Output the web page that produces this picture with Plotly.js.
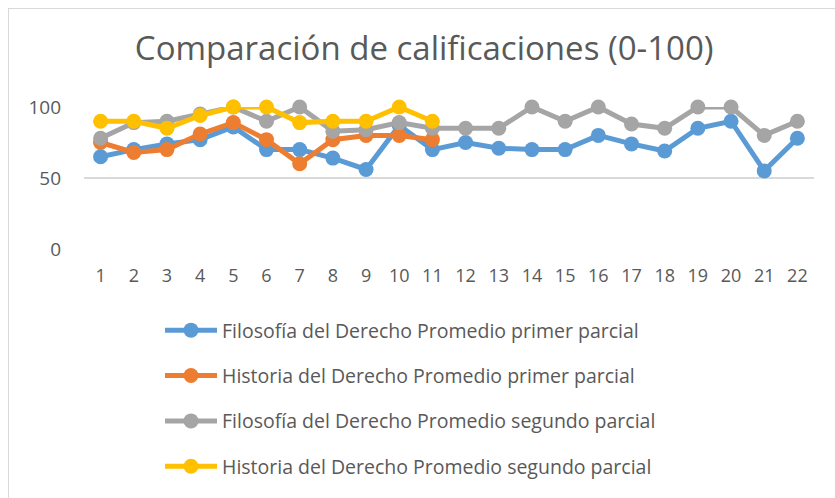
<!DOCTYPE html>
<html>
<head>
<meta charset="utf-8">
<script src="https://cdn.plot.ly/plotly-3.0.1.min.js"></script>
<style>
html,body{margin:0;padding:0;background:#fff;}
#wrap{position:relative;width:835px;height:498px;overflow:hidden;}
#frame{position:absolute;left:8px;top:8px;width:900px;height:600px;border-left:1px solid #d9d9d9;border-top:1px solid #d9d9d9;pointer-events:none;}
#chart{position:absolute;left:0;top:0;width:835px;height:498px;}
</style>
</head>
<body>
<div id="wrap"><div id="chart"></div><div id="frame"></div></div>
<script>
const categories = [1,2,3,4,5,6,7,8,9,10,11,12,13,14,15,16,17,18,19,20,21,22];
const seriesNames = [
  "Filosofía del Derecho Promedio primer parcial",
  "Historia del Derecho Promedio primer parcial",
  "Filosofía del Derecho Promedio segundo parcial",
  "Historia del Derecho Promedio segundo parcial"
];
const filosofiaPrimer = [65,70,74,77,86,70,70,64,56,87,70,75,71,70,70,80,74,69,85,90,55,78];
const historiaPrimer = [75,68,70,81,89,77,60,77,80,80,77];
const filosofiaSegundo = [78,89,90,95,100,90,100,83,84,89,85,85,85,100,90,100,88,85,100,100,80,90];
const historiaSegundo = [90,90,85,94,100,100,89,90,90,100,90];
const yTicks = [0,50,100];

const colors = ["#5B9BD5","#ED7D31","#A5A5A5","#FFC000"];
const data = [filosofiaPrimer, historiaPrimer, filosofiaSegundo, historiaSegundo].map((vals,i)=>({
  type:'scatter', mode:'lines+markers',
  x: categories.slice(0, vals.length), y: vals,
  name: seriesNames[i], legendgroup: 'g'+i,
  line:{color:colors[i], width:5},
  marker:{color:colors[i], size:15},
  cliponaxis:false
}));

const font = "Open Sans, sans-serif";
const layout = {
  width:835, height:498, autosize:false,
  paper_bgcolor:'#fff', plot_bgcolor:'#fff',
  margin:{l:84.4, r:21.4, t:106.7, b:249, pad:0, autoexpand:false},
  font:{family:font, color:'#595959', size:18},
  title:{text:'Comparación de calificaciones (0-100)', font:{family:font, size:33, color:'#595959'},
         xref:'container', x:0.508, xanchor:'center', yref:'container', y:0.903, yanchor:'middle', automargin:false},
  xaxis:{type:'linear', range:[0.5,22.5], tickmode:'array', tickvals:categories, ticktext:categories.map(String),
         showgrid:false, zeroline:false, showline:false, ticks:'', ticklabelstandoff:14, automargin:false,
         tickfont:{family:font, size:18, color:'#595959'}, fixedrange:true},
  yaxis:{range:[0,100], tickmode:'array', tickvals:yTicks, ticktext:yTicks.map(String),
         showgrid:true, gridcolor:'#d9d9d9', gridwidth:1.3, zeroline:false, showline:false, ticks:'', automargin:false,
         ticklabelstandoff:22, tickfont:{family:font, size:19, color:'#595959'}, fixedrange:true},
  showlegend:true,
  legend:{orientation:'v', x:160/835, xref:'container', xanchor:'left', y:1-311/498, yref:'container', yanchor:'top',
          font:{family:font, size:19.5, color:'#595959'}, tracegroupgap:17, itemwidth:52, bgcolor:'rgba(0,0,0,0)'}
};
Plotly.newPlot('chart', data, layout, {displayModeBar:false, staticPlot:true});
</script>
</body>
</html>
